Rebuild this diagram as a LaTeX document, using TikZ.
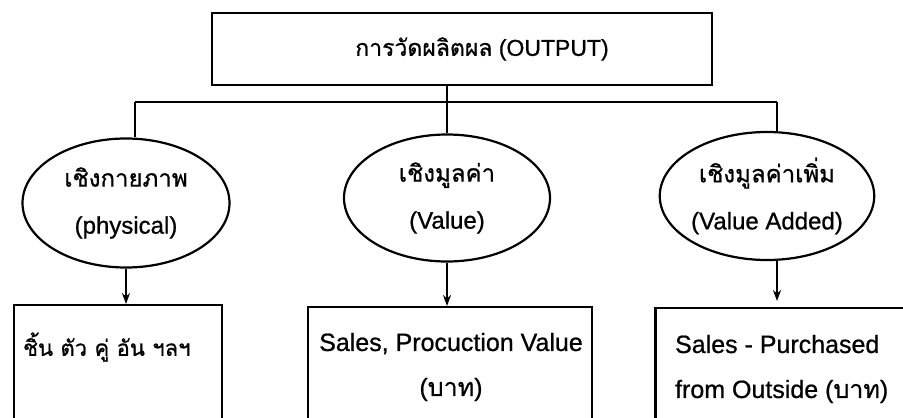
\documentclass[tikz,border=0pt]{standalone}
\usepackage{fontspec}
\setmainfont{Liberation Sans}[FakeBold=0.8]
\newfontfamily\thaifont[Script=Thai,FakeBold=0.8]{Loma}
\usetikzlibrary{shapes.geometric,arrows.meta}

\begin{document}
\begin{tikzpicture}[x=1pt,y=-1pt,
  line width=2.2pt,
  topbox/.style={draw, rectangle, minimum width=500pt, minimum height=72pt, inner sep=0pt, font=\fontsize{23}{26}\selectfont},
  oval/.style={draw, ellipse, inner sep=0pt, align=center, font=\fontsize{24}{46}\selectfont},
  leafbox/.style={draw, rectangle, anchor=north, inner sep=0pt, minimum height=130pt},
  txt/.style={inner sep=0pt, font=\fontsize{25}{45}\selectfont},
  arr/.style={-{Stealth[length=11pt,width=8pt]}}
]
\useasboundingbox (0,0) rectangle (903,418);

\node[topbox] (top) at (462,49) {\hspace*{40pt}{\thaifont การวัดผลิตผล} (OUTPUT)};

\node[oval, minimum width=207pt, minimum height=129pt] (e1) at (126,203) {{\thaifont เชิงกายภาพ}\\[1pt](physical)};
\node[oval, minimum width=206pt, minimum height=127pt] (e2) at (447,198) {{\thaifont เชิงมูลค่า}\\[1pt](Value)};
\node[oval, minimum width=205pt, minimum height=128pt] (e3) at (767,196) {{\thaifont เชิงมูลค่าเพิ่ม}\\[1pt](Value Added)};

\node[leafbox, minimum width=208pt] (b1) at (118,304) {};
\node[leafbox, minimum width=284pt] (b2) at (450,306) {};
\node[leafbox, minimum width=249pt] (b3) at (780,307) {};

\node[txt, anchor=west, font=\fontsize{22}{26}\selectfont] (t1) at (22,347) {\thaifont ชิ้น ตัว คู่ อัน ฯลฯ};
\node[txt, align=center] (t2) at (451,367) {Sales, Procuction Value\\({\thaifont บาท})};
\node[txt, align=left, anchor=west] (t3) at (674,369) {Sales - Purchased\\from Outside ({\thaifont บาท})};

\coordinate (bl) at (135,102);
\coordinate (br) at (777,102);
\draw (bl) -- (br);
\draw (top.south -| e2.north) -- (e2.north);
\draw (bl) -- (bl |- e1.north);
\draw (br) -- (br |- e3.north);

\draw[arr] (e1.south) -- (e1.south |- b1.north);
\draw[arr] (e2.south) -- (e2.south |- b2.north);
\draw[arr, shorten >=6pt] (e3.south -| br) -- (br |- b3.north);
\end{tikzpicture}
\end{document}
